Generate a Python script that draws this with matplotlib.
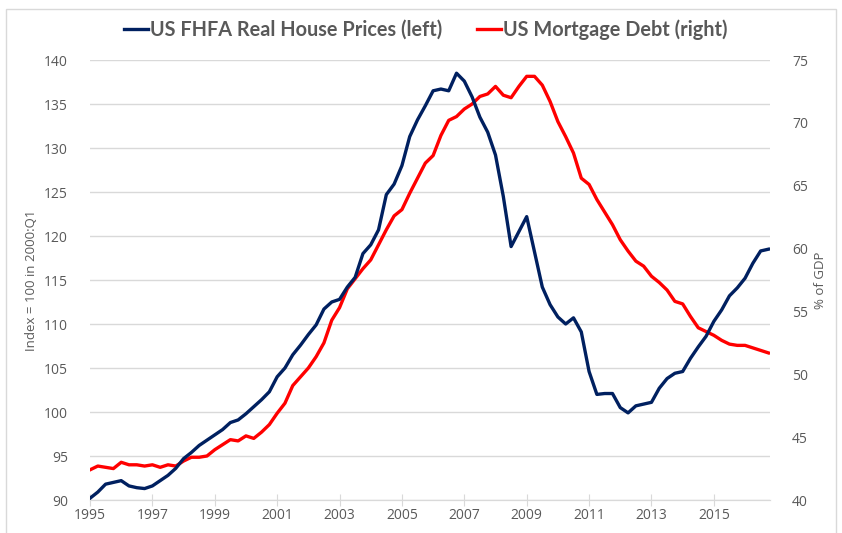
import matplotlib
matplotlib.use('Agg')
import matplotlib.pyplot as plt
from matplotlib.patches import Rectangle
import numpy as np

plt.rcParams['font.family'] = ['Open Sans', 'DejaVu Sans']

# quarterly data, 1995Q1 .. 2016Q4
start_year = 1995
house_prices = [
    90.2, 90.9, 91.8, 92.0,     # 1995
    92.2, 91.6, 91.4, 91.3,     # 1996
    91.6, 92.2, 92.8, 93.6,     # 1997
    94.7, 95.4, 96.2, 96.8,     # 1998
    97.4, 98.0, 98.8, 99.1,     # 1999
    99.8, 100.6, 101.4, 102.3,  # 2000
    104.0, 105.0, 106.5, 107.6,  # 2001
    108.8, 109.9, 111.7, 112.5,  # 2002
    112.8, 114.2, 115.3, 118.0,  # 2003
    119.0, 120.7, 124.7, 125.9,  # 2004
    128.0, 131.3, 133.2, 134.8,  # 2005
    136.5, 136.7, 136.5, 138.5,  # 2006
    137.6, 135.8, 133.5, 131.8,  # 2007
    129.2, 124.5, 118.8, 120.5,  # 2008
    122.2, 118.2, 114.2, 112.2,  # 2009
    110.8, 110.0, 110.7, 109.1,  # 2010
    104.6, 102.0, 102.1, 102.1,  # 2011
    100.5, 99.9, 100.7, 100.9,   # 2012
    101.1, 102.7, 103.8, 104.4,  # 2013
    104.6, 106.1, 107.4, 108.6,  # 2014
    110.3, 111.6, 113.2, 114.1,  # 2015
    115.2, 116.9, 118.3, 118.5,  # 2016
]
mortgage_debt = [
    42.4, 42.7, 42.6, 42.5,  # 1995
    43.0, 42.8, 42.8, 42.7,  # 1996
    42.8, 42.6, 42.8, 42.7,  # 1997
    43.1, 43.4, 43.4, 43.5,  # 1998
    44.0, 44.4, 44.8, 44.7,  # 1999
    45.1, 44.9, 45.4, 46.0,  # 2000
    46.9, 47.7, 49.1, 49.8,  # 2001
    50.5, 51.4, 52.5, 54.3,  # 2002
    55.3, 56.8, 57.6, 58.4,  # 2003
    59.1, 60.3, 61.5, 62.6,  # 2004
    63.1, 64.4, 65.6, 66.8,  # 2005
    67.4, 69.0, 70.2, 70.5,  # 2006
    71.1, 71.5, 72.1, 72.3,  # 2007
    72.9, 72.2, 72.0, 72.9,  # 2008
    73.7, 73.7, 73.0, 71.7,  # 2009
    70.1, 68.9, 67.6, 65.6,  # 2010
    65.1, 63.9, 62.9, 61.9,  # 2011
    60.7, 59.8, 59.0, 58.6,  # 2012
    57.8, 57.3, 56.7, 55.8,  # 2013
    55.6, 54.6, 53.7, 53.4,  # 2014
    53.1, 52.7, 52.4, 52.3,  # 2015
    52.3, 52.1, 51.9, 51.7,  # 2016
]
x_ticks = list(range(1995, 2016, 2))
left_ticks = list(range(90, 141, 5))
right_ticks = list(range(40, 76, 5))

years = start_year + np.arange(len(house_prices)) / 4

grey = '#595959'
grid_col = '#d9d9d9'

fig = plt.figure(figsize=(8.42, 5.33), dpi=100)
ax = fig.add_axes([90 / 842, 33 / 533, 680 / 842, 440 / 533])
ax2 = ax.twinx()

# red on the right axis, blue drawn on top of it using the left axis scale
l2, = ax2.plot(years, mortgage_debt, color='#ff0000', lw=2.4, label='US Mortgage Debt (right)')
l1, = ax2.plot(years, house_prices, color='#002060', lw=2.4, transform=ax.transData,
               label='US FHFA Real House Prices (left)', zorder=3)

ax.set_xlim(1995, 2016.8)
ax.set_ylim(90, 140)
ax2.set_ylim(40, 75)
ax2.set_xlim(1995, 2016.8)

ax.set_xticks(x_ticks)
ax.set_yticks(left_ticks)
ax2.set_yticks(right_ticks)
ax.grid(axis='y', color=grid_col, lw=1)
ax.set_axisbelow(True)

for a in (ax, ax2):
    for s in ('top', 'left', 'right'):
        a.spines[s].set_visible(False)
    a.spines['bottom'].set_color(grid_col)
    a.tick_params(axis='y', length=0, labelsize=10, labelcolor=grey)
ax.tick_params(axis='y', pad=16)
ax2.tick_params(axis='y', pad=16)
ax.tick_params(axis='x', direction='inout', length=8, color=grid_col,
               labelsize=10, labelcolor=grey, pad=2)

ax.set_ylabel('Index = 100 in 2000:Q1', fontsize=9.5, color=grey, labelpad=4)
ax2.set_ylabel('% of GDP', fontsize=9.5, color=grey, labelpad=4)

fig.legend(handles=[l1, l2], loc='center', bbox_to_anchor=(0.506, 0.944), ncol=2,
           frameon=False, handlelength=1.2, handletextpad=0.1, columnspacing=1.75,
           prop={'family': 'Lato', 'weight': 'bold', 'size': 14.3}, labelcolor=grey)

fig.patches.append(Rectangle((6 / 842, -2 / 533), 830 / 842, 526 / 533, transform=fig.transFigure,
                             fill=False, edgecolor=grid_col, lw=1))

fig.savefig('out.png', dpi=100)
